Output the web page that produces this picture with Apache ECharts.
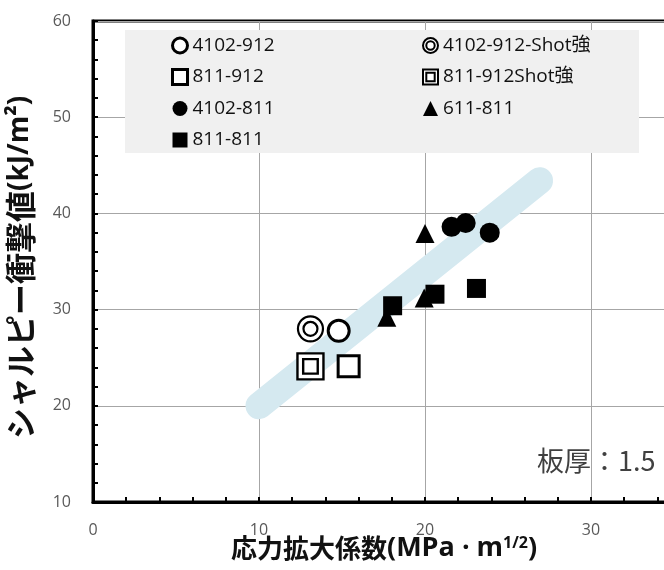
<!DOCTYPE html>
<html>
<head>
<meta charset="utf-8">
<script src="https://cdn.jsdelivr.net/npm/echarts@6/dist/echarts.min.js"></script>
<style>
  html, body { margin: 0; padding: 0; background: #fff; }
  #chart { width: 664px; height: 570px; }
</style>
</head>
<body>
<div id="chart"></div>
<script>
// Stress intensity factor (MPa·m^1/2) vs. Charpy impact value (kJ/m²)
const s4102_912 = [[14.8, 27.8]];
const s4102_912Shot = [[13.1, 28.0]];
const s811_912 = [[15.4, 24.1]];
const s811_912Shot = [[13.1, 24.1]];
const s4102_811 = [[21.6, 38.6], [22.45, 39.0], [23.9, 38.0]];
const s611_811 = [[20.0, 37.9], [17.7, 29.2], [19.95, 31.2]];
const s811_811 = [[18.05, 30.4], [20.6, 31.6], [23.1, 32.2]];
// trend band end points
const trendBand = [[10, 20], [26.9, 43.4]];

const xRange = { min: 0, max: 40, step: 10 };
const yRange = { min: 10, max: 60, step: 10 };

const FONT = '"Open Sans", "Noto Sans CJK JP", sans-serif';
const JP = '"Noto Sans CJK JP", sans-serif';

// outlined marker shapes (white fill, black outline)
const ring = 'path://M50,0 A50,50 0 1,1 50,100 A50,50 0 1,1 50,0 Z';
const box = 'path://M0,0 L100,0 L100,100 L0,100 Z';
const doubleCircle = 'path://M50,0 A50,50 0 1,1 50,100 A50,50 0 1,1 50,0 Z M50,22 A28,28 0 1,1 50,78 A28,28 0 1,1 50,22 Z';
const doubleSquare = 'path://M0,0 L100,0 L100,100 L0,100 Z M22,22 L78,22 L78,78 L22,78 Z';

const chart = echarts.init(document.getElementById('chart'), null, { renderer: 'canvas' });

function pointSeries(name, data, symbol, size, style) {
  return {
    name: name,
    type: 'scatter',
    data: data,
    symbol: symbol,
    symbolSize: size,
    z: 3,
    itemStyle: style,
    emphasis: { disabled: true }
  };
}

const outline = (w) => ({ color: '#ffffff', borderColor: '#000000', borderWidth: w, opacity: 1 });
const solid = { color: '#000000', opacity: 1 };

const legendText = { color: '#111', fontSize: 19, fontFamily: FONT };

chart.setOption({
  animation: false,
  backgroundColor: '#ffffff',
  textStyle: { fontFamily: FONT },
  grid: {
    left: 93, top: 21, width: 664, height: 481,
    outerBoundsMode: 'none',
    show: true, borderColor: '#000000', borderWidth: 3,
    containLabel: false
  },
  xAxis: {
    type: 'value',
    min: xRange.min, max: xRange.max, interval: xRange.step,
    axisLine: { show: true, onZero: false, lineStyle: { color: '#000', width: 3 } },
    axisTick: { show: true, inside: true, length: 5, lineStyle: { color: '#000', width: 2 } },
    minorTick: { show: true, splitNumber: 5, length: 5, lineStyle: { color: '#000', width: 2 } },
    splitLine: { show: true, lineStyle: { color: '#a6a6a6', width: 1 } },
    axisLabel: { color: '#595959', fontSize: 16, margin: 20, fontFamily: FONT }
  },
  yAxis: {
    type: 'value',
    min: yRange.min, max: yRange.max, interval: yRange.step,
    axisLine: { show: true, onZero: false, lineStyle: { color: '#000', width: 3 } },
    axisTick: { show: true, inside: true, length: 5, lineStyle: { color: '#000', width: 2 } },
    minorTick: { show: true, splitNumber: 5, length: 5, lineStyle: { color: '#000', width: 2 } },
    splitLine: { show: true, lineStyle: { color: '#a6a6a6', width: 1 } },
    axisLabel: { color: '#595959', fontSize: 16, margin: 22, fontFamily: FONT }
  },
  legend: [
    {
      orient: 'vertical', left: 166, top: 31,
      itemWidth: 15, itemHeight: 15, itemGap: 12.5,
      data: ['4102-912', '811-912', '4102-811', '811-811'],
      textStyle: legendText,
      itemStyle: { borderWidth: 'inherit' },
      selectedMode: false, z: 5
    },
    {
      orient: 'vertical', left: 417, top: 31,
      itemWidth: 15, itemHeight: 15, itemGap: 12.5,
      data: ['4102-912-Shot強', '811-912Shot強', '611-811'],
      textStyle: legendText,
      selectedMode: false, z: 5
    }
  ],
  graphic: [
    {
      type: 'rect', left: 125, top: 30, z: 1, silent: true,
      shape: { width: 514, height: 123 },
      style: { fill: '#f0f0f0' }
    },
    {
      type: 'text', left: 537, top: 447, z: 5, silent: true,
      style: { text: '板厚：1.5', fill: '#404040', font: '27px ' + JP }
    },
    {
      type: 'text', left: 231, top: 535, z: 5, silent: true,
      style: {
        text: '{a|応力拡大係数}{b|(MPa · m}{s|1/2}{b|)}',
        rich: {
          a: { fontSize: 26, fontWeight: 'bold', fontFamily: JP, fill: '#111' },
          b: { fontSize: 27, fontWeight: 'bold', fontFamily: FONT, fill: '#111' },
          s: { fontSize: 16, fontWeight: 'bold', fontFamily: FONT, fill: '#111', verticalAlign: 'top', padding: [0, 0, 10, 0] }
        }
      }
    },
    {
      type: 'text', x: 5, y: 439, rotation: Math.PI / 2, z: 5, silent: true,
      style: {
        text: '{a|シャルピー衝撃値}{b|(kJ/m²)}',
        rich: {
          a: { fontSize: 31, fontWeight: 'bold', fontFamily: JP, fill: '#111' },
          b: { fontSize: 28, fontWeight: 'bold', fontFamily: FONT, fill: '#111' }
        }
      }
    }
  ],
  series: [
    {
      name: 'trend', type: 'line', data: trendBand, z: 2, silent: true,
      symbol: 'none',
      lineStyle: { color: '#d5e9f0', width: 27, cap: 'round' },
      emphasis: { disabled: true }
    },
    pointSeries('4102-912', s4102_912, ring, 21, outline(3)),
    pointSeries('4102-912-Shot強', s4102_912Shot, doubleCircle, 25, outline(2.2)),
    pointSeries('811-912', s811_912, box, 21, outline(3)),
    pointSeries('811-912Shot強', s811_912Shot, doubleSquare, 26, outline(2.4)),
    pointSeries('4102-811', s4102_811, 'circle', 20, solid),
    pointSeries('611-811', s611_811, 'triangle', 19, solid),
    pointSeries('811-811', s811_811, 'rect', 19, solid)
  ]
});
</script>
</body>
</html>
